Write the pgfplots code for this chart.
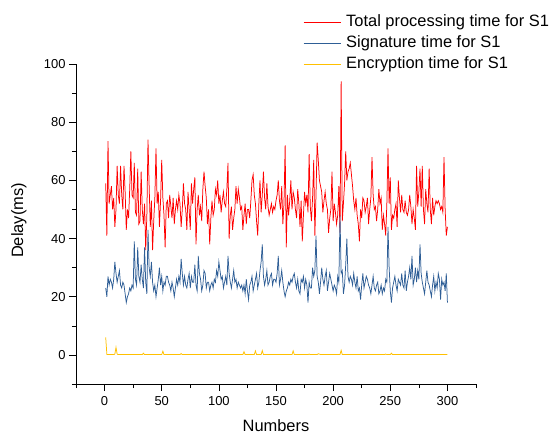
\documentclass[border=0pt]{standalone}
\usepackage{fontspec}
\setmainfont{Liberation Sans}
\usepackage{pgfplots}
\usepackage{pgfplotstable}
\pgfplotsset{compat=1.18}

\definecolor{cred}{RGB}{255,0,0}
\definecolor{cblue}{RGB}{46,94,150}
\definecolor{cyel}{RGB}{255,192,0}

% total processing time, n = 1..300
\pgfplotstableread[header=false,row sep=\\]{
59\\41\\73.5\\52\\55\\58\\50\\54\\44\\50\\
65\\55\\52\\65\\55\\50\\65\\56\\43\\50\\
47\\57\\70\\55\\54\\66\\49\\48\\64\\45\\
46\\63\\50\\45\\52\\36\\48\\74\\58\\44\\
53\\36\\46\\54\\71\\52\\56\\44\\53\\67\\
54\\48\\37\\52\\53\\47\\55\\51\\47\\54\\
45\\50\\53\\50\\55\\52\\44\\50\\59\\52\\
50\\43\\56\\50\\43\\59\\52\\57\\61\\38\\
50\\55\\48\\51\\46\\57\\63\\58\\54\\45\\
50\\38\\47\\53\\48\\50\\57\\55\\60\\52\\
55\\49\\53\\56\\52\\51\\57\\66\\40\\48\\
51\\43\\47\\50\\58\\52\\57\\54\\50\\51\\
43\\48\\52\\45\\50\\50\\47\\53\\60\\62\\
55\\52\\46\\41\\52\\60\\49\\55\\63\\54\\
50\\59\\51\\48\\50\\52\\49\\51\\50\\53\\
55\\60\\53\\50\\58\\45\\52\\72\\37\\55\\
48\\53\\60\\50\\56\\54\\50\\47\\57\\52\\
44\\53\\39\\48\\56\\52\\55\\49\\69\\51\\
46\\54\\67\\41\\55\\73\\67\\60\\58\\56\\
49\\53\\56\\52\\50\\42\\47\\50\\63\\46\\
52\\49\\45\\48\\58\\42\\94\\46\\52\\59\\
70\\60\\63\\64\\66\\62\\58\\53\\50\\54\\
48\\45\\39\\50\\47\\54\\53\\49\\51\\54\\
45\\50\\54\\68\\55\\50\\51\\46\\50\\57\\
52\\54\\43\\48\\45\\41\\52\\71\\52\\61\\
43\\48\\47\\50\\52\\44\\60\\54\\49\\55\\
50\\49\\53\\49\\48\\50\\55\\51\\45\\50\\
47\\43\\65\\51\\56\\64\\51\\65\\50\\45\\
57\\52\\49\\64\\50\\45\\54\\48\\51\\53\\
52\\53\\52\\50\\51\\49\\68\\50\\41\\44\\
}\totaltime

% signature time, n = 1..300
\pgfplotstableread[header=false,row sep=\\]{
23\\20\\27\\24\\26\\25\\23\\26\\32\\28\\
25\\27\\29\\24\\23\\25\\24\\21\\18\\20\\
21\\23\\22\\24\\23\\39\\26\\24\\37\\27\\
25\\31\\26\\23\\37\\25\\21\\43\\30\\27\\
32\\25\\22\\24\\20\\23\\26\\30\\24\\27\\
22\\25\\24\\27\\27\\25\\24\\22\\25\\23\\
20\\23\\26\\24\\27\\25\\33\\28\\24\\27\\
24\\23\\26\\28\\23\\27\\25\\25\\31\\24\\
22\\34\\28\\26\\22\\24\\29\\28\\23\\25\\
25\\22\\24\\25\\23\\26\\25\\29\\27\\32\\
29\\26\\27\\23\\25\\27\\24\\34\\28\\25\\
23\\26\\29\\25\\26\\23\\25\\24\\23\\24\\
22\\24\\21\\26\\22\\19\\24\\25\\27\\22\\
24\\26\\28\\23\\25\\29\\32\\38\\27\\24\\
26\\29\\24\\25\\27\\28\\24\\26\\26\\25\\
28\\34\\24\\26\\29\\25\\22\\20\\22\\23\\
25\\24\\26\\25\\27\\28\\25\\23\\26\\22\\
21\\26\\25\\27\\23\\26\\24\\18\\25\\23\\
23\\30\\27\\29\\41\\27\\25\\21\\25\\30\\
26\\24\\27\\29\\22\\25\\28\\26\\24\\22\\
24\\23\\21\\27\\25\\48\\28\\29\\21\\24\\
31\\40\\27\\25\\27\\26\\24\\28\\25\\23\\
27\\22\\23\\19\\24\\28\\23\\25\\27\\26\\
24\\23\\21\\24\\27\\23\\22\\24\\25\\21\\
22\\24\\21\\23\\22\\26\\25\\44\\30\\22\\
18\\23\\25\\27\\24\\22\\26\\25\\24\\28\\
24\\23\\29\\22\\25\\27\\30\\26\\34\\24\\
26\\30\\25\\29\\26\\38\\28\\25\\23\\21\\
25\\29\\25\\24\\22\\20\\24\\27\\22\\25\\
23\\28\\26\\19\\26\\24\\25\\22\\28\\18\\
}\signtime

\begin{document}
\begin{tikzpicture}
\begin{axis}[
  scale only axis,
  width=400bp, height=320bp,
  xmin=-25, xmax=325, ymin=-10, ymax=100,
  axis x line*=bottom, axis y line*=left,
  xtick={0,50,...,300}, ytick={0,20,...,100},
  minor xtick={-25,25,75,...,325},
  minor ytick={-10,10,...,90},
  tick align=outside,
  major tick length=7bp, minor tick length=4bp,
  tick style={black, line width=0.6bp},
  axis line style={black, line width=0.8bp},
  /pgf/number format/assume math mode=true,
  ticklabel style={font=\fontsize{13}{15}\selectfont},
  xticklabel style={yshift=-2bp},
  xlabel={Numbers}, ylabel={Delay(ms)},
  label style={font=\fontsize{16.5}{19}\selectfont},
  xlabel style={at={(axis description cs:0.5,-0.131)}, anchor=center},
  ylabel style={at={(axis description cs:-0.1425,0.511)}, anchor=center, rotate=0},
  legend cell align=left,
  legend image code/.code={\draw[#1, line width=1bp] (0bp,0bp) -- (37bp,0bp);},
  legend style={draw=none, fill=none, at={(axis description cs:0.5675,1.155)},
    anchor=north west, font=\fontsize{16.5}{19}\selectfont,
    inner sep=0pt, column sep=5bp, row sep=5bp,
    nodes={inner sep=0pt, text height=12bp, text depth=4bp}},
  every axis plot/.append style={line width=0.75bp},
]
\addplot[cred] table[x expr=\coordindex+1, y index=0]{\totaltime};
\addlegendentry{Total processing time for S1}
\addplot[cblue] table[x expr=\coordindex+1, y index=0]{\signtime};
\addlegendentry{Signature time for S1}
\addplot[cyel] coordinates {
  (1,6)(2,0.2)(3,0.1)(8,0.1)(9,0.3)(10,2.6)(11,0.3)(12,0.1)
  (33,0.1)(34,0.6)(35,0.1)(50,0.1)(51,1.3)(52,0.1)(66,0.1)(67,0.5)(68,0.1)
  (121,0.1)(122,1.1)(123,0.1)(131,0.1)(132,1.4)(133,0.1)(137,0.1)(138,1.5)(139,0.1)
  (164,0.1)(165,1.4)(166,0.1)(178,0.1)(179,0.3)(180,0.1)(186,0.1)(187,0.4)(188,0.3)(189,0.1)
  (206,0.1)(207,1.6)(208,0.1)(245,0.1)(246,0.3)(247,0.1)(250,0.1)(251,0.6)(252,0.1)(300,0.1)
};
\addlegendentry{Encryption time for S1}
\end{axis}
\path (-76bp,-49bp) rectangle (476bp,384bp);
\end{tikzpicture}
\end{document}
